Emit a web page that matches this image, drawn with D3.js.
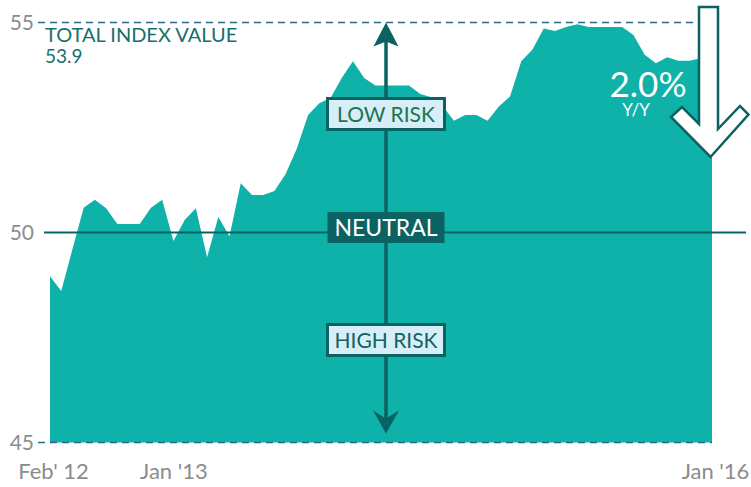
<!DOCTYPE html>
<html>
<head>
<meta charset="utf-8">
<script src="https://cdn.jsdelivr.net/npm/d3@7"></script>
<style>
  body { margin: 0; background: #fff; }
  svg { display: block; font-family: "Lato", "Open Sans", sans-serif; }
</style>
</head>
<body>
<div id="chart"></div>
<script>
// index values, roughly two points a month from Feb '12 to Jan '16
var values = [
  48.96, 48.61, 49.60, 50.59, 50.78, 50.58, 50.20, 50.20, 50.20, 50.59,
  50.78, 49.80, 50.30, 50.58, 49.41, 50.37, 49.91, 51.17, 50.89, 50.89,
  50.99, 51.39, 52.00, 52.80, 53.08, 53.20, 53.68, 54.08, 53.68, 53.50,
  53.50, 53.50, 53.50, 53.30, 53.22, 53.01, 52.66, 52.80, 52.80, 52.66,
  53.00, 53.24, 54.08, 54.36, 54.86, 54.80, 54.89, 54.96, 54.89, 54.89,
  54.89, 54.89, 54.70, 54.23, 54.03, 54.17, 54.09, 54.09, 54.15, 53.90
];
var xTickIdx = [0, 11, 59];
var xTickLabels = ["Feb' 12", "Jan '13", "Jan '16"];
var yTicks = [45, 50, 55];
var totalValue = "53.9";
var yoy = "2.0%";

var width = 751, height = 487;
var teal = "#0fb2a9", dark = "#0b6262";

var svg = d3.select("#chart").append("svg")
    .attr("width", width)
    .attr("height", height);

var x = d3.scaleLinear().domain([0, values.length - 1]).range([50, 712]);
var y = d3.scaleLinear().domain([45, 55]).range([442.5, 22.5]);

var area = d3.area()
    .x(function(d, i) { return x(i); })
    .y0(y(45))
    .y1(function(d) { return y(d); });

svg.append("path")
    .datum(values)
    .attr("d", area)
    .attr("fill", teal);

// reference lines
svg.selectAll(".dash")
    .data([45, 55])
    .enter().append("line")
    .attr("x1", 38).attr("x2", 712)
    .attr("y1", function(d) { return y(d); })
    .attr("y2", function(d) { return y(d); })
    .attr("stroke", "#2a6789")
    .attr("stroke-width", 1.5)
    .attr("stroke-dasharray", "7,5");

svg.append("line")
    .attr("x1", 44).attr("x2", 746)
    .attr("y1", y(50)).attr("y2", y(50))
    .attr("stroke", dark)
    .attr("stroke-width", 2);

// y axis labels
var yAxis = d3.axisLeft(y).tickValues(yTicks).tickSize(0).tickPadding(0);
var gy = svg.append("g")
    .attr("transform", "translate(34,0)")
    .call(yAxis);
gy.select(".domain").remove();
gy.selectAll("text")
    .attr("font-family", "Lato, sans-serif")
    .attr("font-size", 21)
    .attr("fill", "#8c8c8c");

// x axis labels
var xAxis = d3.axisBottom(x).tickValues(xTickIdx)
    .tickFormat(function(d, i) { return xTickLabels[i]; })
    .tickSize(0).tickPadding(0);
var gx = svg.append("g")
    .attr("transform", "translate(0,479)")
    .call(xAxis);
gx.select(".domain").remove();
gx.selectAll("text")
    .attr("y", 0).attr("dy", 0)
    .attr("font-family", "Lato, sans-serif")
    .attr("font-size", 22)
    .attr("fill", "#8c8c8c");
gx.selectAll(".tick").filter(function(d) { return d !== 11; })
    .select("text").attr("dx", 3);

// title
svg.append("text")
    .attr("x", 45).attr("y", 42)
    .attr("font-size", 20)
    .attr("fill", "#17706c")
    .text("TOTAL INDEX VALUE");
svg.append("text")
    .attr("x", 45).attr("y", 63)
    .attr("font-size", 19)
    .attr("fill", "#17706c")
    .text(totalValue);

// vertical risk arrow
var ax = 386;
var topY = y(55), botY = y(45) - 9;
svg.append("line")
    .attr("x1", ax).attr("x2", ax)
    .attr("y1", topY + 18).attr("y2", botY - 14)
    .attr("stroke", dark)
    .attr("stroke-width", 3.5);
svg.append("path")
    .attr("d", "M" + ax + "," + topY + "L" + (ax + 12.5) + "," + (topY + 24) +
               "L" + ax + "," + (topY + 19) + "L" + (ax - 12.5) + "," + (topY + 24) + "Z")
    .attr("fill", dark);
svg.append("path")
    .attr("d", "M" + ax + "," + botY + "L" + (ax + 13) + "," + (botY - 23) +
               "L" + ax + "," + (botY - 15) + "L" + (ax - 13) + "," + (botY - 23) + "Z")
    .attr("fill", dark);

var boxes = [
  {label: "LOW RISK", cy: 114, fill: "#d6eef8", text: "#1d744f", size: 21},
  {label: "NEUTRAL", cy: 227.5, fill: dark, text: "#ffffff", size: 23},
  {label: "HIGH RISK", cy: 340, fill: "#d6eef8", text: "#16605f", size: 21}
];
var bg = svg.selectAll(".box").data(boxes).enter().append("g");
bg.append("rect")
    .attr("x", ax - 58.5)
    .attr("y", function(d) { return d.cy - 15.5; })
    .attr("width", 117)
    .attr("height", 31)
    .attr("fill", function(d) { return d.fill; })
    .attr("stroke", dark)
    .attr("stroke-width", function(d) { return d.label === "NEUTRAL" ? 0 : 3; });
bg.append("text")
    .attr("x", ax)
    .attr("y", function(d) { return d.cy; })
    .attr("dy", "0.36em")
    .attr("text-anchor", "middle")
    .attr("font-size", function(d) { return d.size; })
    .attr("fill", function(d) { return d.text; })
    .text(function(d) { return d.label; });

// big down arrow on the right
var arrowPts = [[699, 7], [718, 7], [718, 129], [740, 106], [748.5, 114.5],
                [710.5, 157], [671, 117], [682, 107], [699, 124]];
svg.append("path")
    .attr("d", d3.line()(arrowPts) + "Z")
    .attr("fill", "#fff")
    .attr("stroke", dark)
    .attr("stroke-width", 2.5)
    .attr("stroke-linejoin", "miter");

svg.append("text")
    .attr("x", 648).attr("y", 96.5)
    .attr("text-anchor", "middle")
    .attr("font-size", 35)
    .attr("fill", "#fff")
    .text(yoy);
svg.append("text")
    .attr("x", 636).attr("y", 116)
    .attr("text-anchor", "middle")
    .attr("font-size", 17)
    .attr("fill", "#fff")
    .text("Y/Y");
</script>
</body>
</html>
